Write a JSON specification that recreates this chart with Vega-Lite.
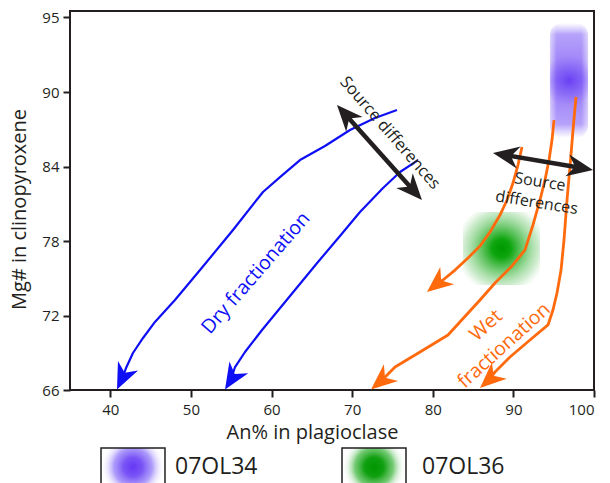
{
  "$schema": "https://vega.github.io/schema/vega-lite/v6.json",
  "width": 524,
  "height": 379,
  "autosize": "none",
  "padding": {"left": 70, "top": 11, "right": 16, "bottom": 93},
  "background": "white",
  "config": {
    "font": "Open Sans",
    "view": {"stroke": "#231f20", "strokeWidth": 2},
    "axis": {
      "grid": false,
      "domain": false,
      "tickColor": "#231f20",
      "tickWidth": 2,
      "tickSize": 7,
      "labelColor": "#231f20",
      "labelFont": "Open Sans",
      "labelFontSize": 15,
      "titleColor": "#231f20",
      "titleFont": "Open Sans",
      "titleFontSize": 20,
      "titleFontWeight": "normal"
    }
  },
  "resolve": {"scale": {"shape": "independent"}, "legend": {"shape": "independent"}},
  "datasets": {
    "curves": [
      {"trend": "Dry A", "kind": "Dry", "i": 1, "An": 75.56, "Mg": 88.55},
      {"trend": "Dry A", "kind": "Dry", "i": 2, "An": 72.83, "Mg": 87.91},
      {"trend": "Dry A", "kind": "Dry", "i": 3, "An": 69.73, "Mg": 86.94},
      {"trend": "Dry A", "kind": "Dry", "i": 4, "An": 66.63, "Mg": 85.65},
      {"trend": "Dry A", "kind": "Dry", "i": 5, "An": 63.53, "Mg": 84.52},
      {"trend": "Dry A", "kind": "Dry", "i": 6, "An": 61.05, "Mg": 83.15},
      {"trend": "Dry A", "kind": "Dry", "i": 7, "An": 58.94, "Mg": 81.95},
      {"trend": "Dry A", "kind": "Dry", "i": 8, "An": 55.22, "Mg": 78.89},
      {"trend": "Dry A", "kind": "Dry", "i": 9, "An": 51.13, "Mg": 75.66},
      {"trend": "Dry A", "kind": "Dry", "i": 10, "An": 48.02, "Mg": 73.25},
      {"trend": "Dry A", "kind": "Dry", "i": 11, "An": 45.54, "Mg": 71.48},
      {"trend": "Dry A", "kind": "Dry", "i": 12, "An": 44.06, "Mg": 70.19},
      {"trend": "Dry A", "kind": "Dry", "i": 13, "An": 42.81, "Mg": 68.98},
      {"trend": "Dry A", "kind": "Dry", "i": 14, "An": 41.95, "Mg": 67.77},
      {"trend": "Dry A", "kind": "Dry", "i": 15, "An": 41.35, "Mg": 66.73},
      {"trend": "Dry B", "kind": "Dry", "i": 1, "An": 78.17, "Mg": 84.52},
      {"trend": "Dry B", "kind": "Dry", "i": 2, "An": 75.94, "Mg": 83.56},
      {"trend": "Dry B", "kind": "Dry", "i": 3, "An": 73.83, "Mg": 82.27},
      {"trend": "Dry B", "kind": "Dry", "i": 4, "An": 70.97, "Mg": 80.34},
      {"trend": "Dry B", "kind": "Dry", "i": 5, "An": 68.49, "Mg": 78.40},
      {"trend": "Dry B", "kind": "Dry", "i": 6, "An": 65.76, "Mg": 76.31},
      {"trend": "Dry B", "kind": "Dry", "i": 7, "An": 62.29, "Mg": 73.57},
      {"trend": "Dry B", "kind": "Dry", "i": 8, "An": 58.82, "Mg": 70.83},
      {"trend": "Dry B", "kind": "Dry", "i": 9, "An": 56.71, "Mg": 69.06},
      {"trend": "Dry B", "kind": "Dry", "i": 10, "An": 55.47, "Mg": 67.85},
      {"trend": "Dry B", "kind": "Dry", "i": 11, "An": 54.88, "Mg": 66.68},
      {"trend": "Wet A", "kind": "Wet", "i": 1, "An": 91.07, "Mg": 85.57},
      {"trend": "Wet A", "kind": "Wet", "i": 2, "An": 90.57, "Mg": 84.12},
      {"trend": "Wet A", "kind": "Wet", "i": 3, "An": 89.95, "Mg": 82.67},
      {"trend": "Wet A", "kind": "Wet", "i": 4, "An": 89.21, "Mg": 81.30},
      {"trend": "Wet A", "kind": "Wet", "i": 5, "An": 88.34, "Mg": 80.09},
      {"trend": "Wet A", "kind": "Wet", "i": 6, "An": 87.10, "Mg": 78.72},
      {"trend": "Wet A", "kind": "Wet", "i": 7, "An": 85.86, "Mg": 77.60},
      {"trend": "Wet A", "kind": "Wet", "i": 8, "An": 84.37, "Mg": 76.63},
      {"trend": "Wet A", "kind": "Wet", "i": 9, "An": 82.76, "Mg": 75.66},
      {"trend": "Wet A", "kind": "Wet", "i": 10, "An": 81.27, "Mg": 74.86},
      {"trend": "Wet A", "kind": "Wet", "i": 11, "An": 80.25, "Mg": 74.40},
      {"trend": "Wet B", "kind": "Wet", "i": 1, "An": 95.04, "Mg": 87.74},
      {"trend": "Wet B", "kind": "Wet", "i": 2, "An": 94.79, "Mg": 86.13},
      {"trend": "Wet B", "kind": "Wet", "i": 3, "An": 94.42, "Mg": 84.52},
      {"trend": "Wet B", "kind": "Wet", "i": 4, "An": 93.92, "Mg": 82.91},
      {"trend": "Wet B", "kind": "Wet", "i": 5, "An": 93.30, "Mg": 81.30},
      {"trend": "Wet B", "kind": "Wet", "i": 6, "An": 92.43, "Mg": 79.29},
      {"trend": "Wet B", "kind": "Wet", "i": 7, "An": 91.44, "Mg": 77.28},
      {"trend": "Wet B", "kind": "Wet", "i": 8, "An": 89.83, "Mg": 75.99},
      {"trend": "Wet B", "kind": "Wet", "i": 9, "An": 87.72, "Mg": 74.62},
      {"trend": "Wet B", "kind": "Wet", "i": 10, "An": 85.86, "Mg": 73.25},
      {"trend": "Wet B", "kind": "Wet", "i": 11, "An": 81.89, "Mg": 70.43},
      {"trend": "Wet B", "kind": "Wet", "i": 12, "An": 78.42, "Mg": 69.06},
      {"trend": "Wet B", "kind": "Wet", "i": 13, "An": 75.32, "Mg": 67.85},
      {"trend": "Wet B", "kind": "Wet", "i": 14, "An": 73.29, "Mg": 66.52},
      {"trend": "Wet C", "kind": "Wet", "i": 1, "An": 97.77, "Mg": 89.60},
      {"trend": "Wet C", "kind": "Wet", "i": 2, "An": 97.40, "Mg": 86.94},
      {"trend": "Wet C", "kind": "Wet", "i": 3, "An": 97.02, "Mg": 83.96},
      {"trend": "Wet C", "kind": "Wet", "i": 4, "An": 96.65, "Mg": 81.30},
      {"trend": "Wet C", "kind": "Wet", "i": 5, "An": 96.28, "Mg": 78.08},
      {"trend": "Wet C", "kind": "Wet", "i": 6, "An": 95.91, "Mg": 75.66},
      {"trend": "Wet C", "kind": "Wet", "i": 7, "An": 95.41, "Mg": 73.81},
      {"trend": "Wet C", "kind": "Wet", "i": 8, "An": 94.91, "Mg": 72.44},
      {"trend": "Wet C", "kind": "Wet", "i": 9, "An": 94.29, "Mg": 71.24},
      {"trend": "Wet C", "kind": "Wet", "i": 10, "An": 92.06, "Mg": 70.03},
      {"trend": "Wet C", "kind": "Wet", "i": 11, "An": 89.58, "Mg": 68.66},
      {"trend": "Wet C", "kind": "Wet", "i": 12, "An": 87.72, "Mg": 67.45},
      {"trend": "Wet C", "kind": "Wet", "i": 13, "An": 86.78, "Mg": 66.70},
      {"trend": "Source A", "kind": "Source", "i": 1, "An": 68.95, "Mg": 88.35},
      {"trend": "Source A", "kind": "Source", "i": 2, "An": 77.83, "Mg": 81.91},
      {"trend": "Source B", "kind": "Source", "i": 1, "An": 88.70, "Mg": 84.95},
      {"trend": "Source B", "kind": "Source", "i": 2, "An": 98.65, "Mg": 83.86}
    ],
    "heads": [
      {"kind": "Dry", "An": 40.83, "Mg": 66.05, "heading": 205},
      {"kind": "Dry", "An": 54.23, "Mg": 66.05, "heading": 212},
      {"kind": "Wet", "An": 79.28, "Mg": 73.89, "heading": 231},
      {"kind": "Wet", "An": 72.34, "Mg": 66.05, "heading": 230},
      {"kind": "Wet", "An": 85.86, "Mg": 66.16, "heading": 228},
      {"kind": "Source", "An": 68.12, "Mg": 88.95, "heading": 318},
      {"kind": "Source", "An": 78.66, "Mg": 81.30, "heading": 138},
      {"kind": "Source", "An": 87.47, "Mg": 85.09, "heading": 280},
      {"kind": "Source", "An": 99.88, "Mg": 83.72, "heading": 100}
    ],
    "blobs": [
      {"sample": "07OL34", "An": 94.54, "An2": 99.26, "Mg": 94.6, "Mg2": 86.3},
      {"sample": "07OL36", "An": 83.75, "An2": 93.3, "Mg": 80.34, "Mg2": 74.46}
    ],
    "notes": [
      {"note": "Source differences", "An": 74.69, "Mg": 86.7},
      {"note": "Source\ndifferences", "An": 93.3, "Mg": 82.75},
      {"note": "Dry fractionation", "An": 58.07, "Mg": 75.42},
      {"note": "Wet\nfractionation", "An": 86.6, "Mg": 71.2}
    ]
  },
  "encoding": {
    "x": {
      "field": "An",
      "type": "quantitative",
      "scale": {"domain": [35, 100], "nice": false, "zero": false},
      "axis": {
        "title": "An% in plagioclase",
        "values": [40, 50, 60, 70, 80, 90, 100],
        "labelPadding": 5,
        "titleX": 242,
        "titleY": 48,
        "titleAlign": "center",
        "titleBaseline": "alphabetic"
      }
    },
    "y": {
      "field": "Mg",
      "type": "quantitative",
      "scale": {"domain": [66, 90, 95.4], "range": [379, 81, 0], "nice": false, "zero": false},
      "axis": {
        "title": "Mg# in clinopyroxene",
        "values": [66, 72, 78, 84, 90, 95],
        "labelPadding": 4,
        "titleX": -45,
        "titleY": 198,
        "titleAngle": 270,
        "titleAlign": "center",
        "titleBaseline": "alphabetic"
      }
    }
  },
  "layer": [
    {
      "data": {"name": "blobs"},
      "transform": [{"filter": "datum.sample === '07OL34'"}],
      "mark": {
        "type": "rect",
        "cornerRadius": 12,
        "fill": {
          "gradient": "linear", "x1": 0, "y1": 0, "x2": 0, "y2": 1,
          "stops": [
            {"offset": 0, "color": "rgba(180,160,250,0)"},
            {"offset": 0.1, "color": "rgba(168,146,249,0.85)"},
            {"offset": 0.5, "color": "#8f6ef7"},
            {"offset": 0.88, "color": "rgba(168,146,249,0.85)"},
            {"offset": 1, "color": "rgba(180,160,250,0)"}
          ]
        }
      },
      "encoding": {"x2": {"field": "An2"}, "y2": {"field": "Mg2"}}
    },
    {
      "data": {"name": "blobs"},
      "transform": [{"filter": "datum.sample === '07OL34'"}],
      "mark": {
        "type": "rect",
        "fill": {
          "gradient": "linear", "x1": 0, "y1": 0, "x2": 1, "y2": 0,
          "stops": [
            {"offset": 0, "color": "rgba(255,255,255,0.55)"},
            {"offset": 0.18, "color": "rgba(255,255,255,0)"},
            {"offset": 0.82, "color": "rgba(255,255,255,0)"},
            {"offset": 1, "color": "rgba(255,255,255,0.55)"}
          ]
        }
      },
      "encoding": {"x2": {"field": "An2"}, "y2": {"field": "Mg2"}}
    },
    {
      "data": {"name": "blobs"},
      "transform": [{"filter": "datum.sample === '07OL34'"}],
      "mark": {
        "type": "rect",
        "fill": {
          "gradient": "radial", "x1": 0.5, "y1": 0.5, "r1": 0, "x2": 0.5, "y2": 0.5, "r2": 0.5,
          "stops": [
            {"offset": 0, "color": "rgba(100,55,243,0.85)"},
            {"offset": 0.25, "color": "rgba(115,80,245,0.4)"},
            {"offset": 0.45, "color": "rgba(140,110,247,0)"}
          ]
        }
      },
      "encoding": {"x2": {"field": "An2"}, "y2": {"field": "Mg2"}}
    },
    {
      "data": {"name": "blobs"},
      "transform": [{"filter": "datum.sample === '07OL36'"}],
      "mark": {
        "type": "rect",
        "fill": {
          "gradient": "radial", "x1": 0.5, "y1": 0.5, "r1": 0, "x2": 0.5, "y2": 0.5, "r2": 0.6,
          "stops": [
            {"offset": 0, "color": "#009800"},
            {"offset": 0.2, "color": "rgba(0,160,0,0.95)"},
            {"offset": 0.5, "color": "rgba(30,170,30,0.6)"},
            {"offset": 0.8, "color": "rgba(90,190,90,0.3)"},
            {"offset": 1, "color": "rgba(140,210,140,0)"}
          ]
        }
      },
      "encoding": {"x2": {"field": "An2"}, "y2": {"field": "Mg2"}}
    },
    {
      "data": {"name": "blobs"},
      "transform": [{"filter": "datum.sample === '07OL34'"}],
      "mark": {
        "type": "point",
        "opacity": 0,
        "filled": true,
        "stroke": "#231f20",
        "strokeWidth": 2,
        "fill": {
          "gradient": "radial", "x1": 0.5, "y1": 0.5, "r1": 0, "x2": 0.5, "y2": 0.5, "r2": 0.5,
          "stops": [
            {"offset": 0, "color": "#6538f5"},
            {"offset": 0.3, "color": "#7b55f6"},
            {"offset": 0.6, "color": "rgba(140,115,248,0.7)"},
            {"offset": 0.8, "color": "rgba(200,185,251,0.35)"},
            {"offset": 1, "color": "rgba(255,255,255,0)"}
          ]
        }
      },
      "encoding": {
        "shape": {
          "field": "sample",
          "type": "nominal",
          "scale": {"domain": ["07OL34"], "range": ["M-1.684,-1H1.684V1H-1.684Z"]},
          "legend": {
            "title": null,
            "orient": "none",
            "legendX": 43,
            "legendY": 436,
            "symbolSize": 1444,
            "symbolOpacity": 1,
            "labelFont": "Open Sans",
            "labelFontSize": 23,
            "labelColor": "#231f20",
            "labelOffset": 22
          }
        }
      }
    },
    {
      "data": {"name": "blobs"},
      "transform": [{"filter": "datum.sample === '07OL36'"}],
      "mark": {
        "type": "point",
        "opacity": 0,
        "filled": true,
        "stroke": "#231f20",
        "strokeWidth": 2,
        "fill": {
          "gradient": "radial", "x1": 0.5, "y1": 0.5, "r1": 0, "x2": 0.5, "y2": 0.5, "r2": 0.5,
          "stops": [
            {"offset": 0, "color": "#009600"},
            {"offset": 0.3, "color": "#10a010"},
            {"offset": 0.6, "color": "rgba(60,180,60,0.7)"},
            {"offset": 0.8, "color": "rgba(170,220,170,0.35)"},
            {"offset": 1, "color": "rgba(255,255,255,0)"}
          ]
        }
      },
      "encoding": {
        "shape": {
          "field": "sample",
          "type": "nominal",
          "scale": {"domain": ["07OL36"], "range": ["M-1.684,-1H1.684V1H-1.684Z"]},
          "legend": {
            "title": null,
            "orient": "none",
            "legendX": 284,
            "legendY": 436,
            "symbolSize": 1444,
            "symbolOpacity": 1,
            "labelFont": "Open Sans",
            "labelFontSize": 23,
            "labelColor": "#231f20",
            "labelOffset": 28
          }
        }
      }
    },
    {
      "data": {"name": "curves"},
      "mark": {"type": "line", "strokeJoin": "round", "strokeCap": "butt"},
      "encoding": {
        "detail": {"field": "trend", "type": "nominal"},
        "order": {"field": "i", "type": "quantitative"},
        "color": {
          "field": "kind",
          "type": "nominal",
          "scale": {"domain": ["Dry", "Wet", "Source"], "range": ["#0f0ff5", "#ff6a0d", "#231f20"]},
          "legend": null
        },
        "strokeWidth": {
          "field": "kind",
          "type": "ordinal",
          "scale": {"type": "ordinal", "domain": ["Dry", "Wet", "Source"], "range": [2.2, 2.8, 4.5]},
          "legend": null
        }
      }
    },
    {
      "data": {"name": "heads"},
      "mark": {"type": "point", "shape": "M0,0L0.85,2L0,1.4L-0.85,2Z", "filled": true, "size": 680, "opacity": 1, "strokeWidth": 0},
      "encoding": {
        "color": {"field": "kind", "type": "nominal", "legend": null},
        "angle": {"field": "heading", "type": "quantitative", "scale": null}
      }
    },
    {
      "data": {"name": "notes"},
      "transform": [{"filter": "datum.note === 'Source differences'"}],
      "mark": {"type": "text", "angle": 49, "fontSize": 16.5, "color": "#231f20", "align": "center", "baseline": "middle"},
      "encoding": {"text": {"field": "note"}}
    },
    {
      "data": {"name": "notes"},
      "transform": [{"filter": "datum.note === 'Source\\ndifferences'"}],
      "mark": {"type": "text", "angle": 9, "fontSize": 16, "lineHeight": 21, "lineBreak": "\n", "color": "#231f20", "align": "center", "baseline": "middle"},
      "encoding": {"text": {"field": "note"}}
    },
    {
      "data": {"name": "notes"},
      "transform": [{"filter": "datum.note === 'Dry fractionation'"}],
      "mark": {"type": "text", "angle": 311, "fontSize": 19.5, "color": "#0f0ff5", "align": "center", "baseline": "middle"},
      "encoding": {"text": {"field": "note"}}
    },
    {
      "data": {"name": "notes"},
      "transform": [{"filter": "datum.note === 'Wet\\nfractionation'"}],
      "mark": {"type": "text", "angle": 318, "fontSize": 19.5, "lineHeight": 27, "lineBreak": "\n", "color": "#ff6a0d", "align": "center", "baseline": "middle"},
      "encoding": {"text": {"field": "note"}}
    }
  ]
}
